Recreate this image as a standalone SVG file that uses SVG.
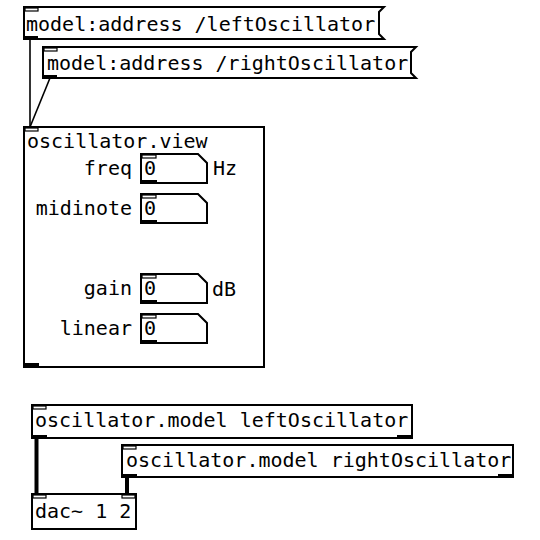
<svg xmlns="http://www.w3.org/2000/svg" width="540" height="540" viewBox="0 0 540 540">
<style>
.box{fill:#fff;stroke:#000;stroke-width:2}
.in{fill:#fff;stroke:#000;stroke-width:1.2}
.out{fill:#000}
.t{font-family:"DejaVu Sans Mono","Liberation Mono",monospace;font-size:20px;fill:#000}
.ctl{stroke:#000;stroke-width:1.6;fill:none}
.sig{stroke:#000;stroke-width:4;fill:none}
</style>
<rect width="540" height="540" fill="#fff"/>
<g id="connectors">
<line class="ctl" x1="30" y1="39" x2="30" y2="127"/>
<line class="ctl" x1="50" y1="78" x2="30" y2="127"/>
<line class="sig" x1="36.5" y1="438" x2="36.5" y2="494"/>
<line class="sig" x1="127" y1="477" x2="127" y2="494"/>
</g>
<g id="msgLeft">
<polygon class="box" points="24,7 384,7 379,12 379,34 384,39 24,39"/>
<rect class="in" x="25" y="8" width="13" height="3"/>
<rect class="out" x="24" y="36" width="14" height="3"/>
<text class="t" x="26" y="31">model:address /leftOscillator</text>
</g>
<g id="msgRight">
<polygon class="box" points="43,47 416,47 411,52 411,73 416,78 43,78"/>
<rect class="in" x="44" y="48" width="13" height="3"/>
<rect class="out" x="43" y="75" width="14" height="3"/>
<text class="t" x="47" y="70">model:address /rightOscillator</text>
</g>
<g id="oscView">
<rect class="box" x="24" y="127" width="240" height="240"/>
<rect class="in" x="25" y="128" width="13" height="3"/>
<rect class="out" x="24" y="363" width="15" height="4"/>
<text class="t" x="27" y="148">oscillator.view</text>
<g id="freq">
<text class="t" x="132" y="175" text-anchor="end">freq</text>
<polygon class="box" points="141,154 198,154 207,163 207,183 141,183"/>
<rect class="in" x="142" y="155" width="14" height="3"/>
<rect class="out" x="141" y="180" width="16" height="3"/>
<text class="t" x="144" y="175">0</text>
<text class="t" x="213" y="175">Hz</text>
</g>
<g id="midinote">
<text class="t" x="132" y="215" text-anchor="end">midinote</text>
<polygon class="box" points="141,194 198,194 207,203 207,223 141,223"/>
<rect class="in" x="142" y="195" width="14" height="3"/>
<rect class="out" x="141" y="220" width="16" height="3"/>
<text class="t" x="144" y="215">0</text>
</g>
<g id="gain">
<text class="t" x="132" y="295" text-anchor="end">gain</text>
<polygon class="box" points="141,274 198,274 207,283 207,303 141,303"/>
<rect class="in" x="142" y="275" width="14" height="3"/>
<rect class="out" x="141" y="300" width="16" height="3"/>
<text class="t" x="144" y="295">0</text>
<text class="t" x="212" y="296">dB</text>
</g>
<g id="linear">
<text class="t" x="132" y="335" text-anchor="end">linear</text>
<polygon class="box" points="141,314 198,314 207,323 207,343 141,343"/>
<rect class="in" x="142" y="315" width="14" height="3"/>
<rect class="out" x="141" y="340" width="16" height="3"/>
<text class="t" x="144" y="335">0</text>
</g>
</g>
<g id="modelLeft">
<rect class="box" x="32" y="405" width="380" height="33"/>
<rect class="in" x="33" y="406" width="13" height="3"/>
<rect class="out" x="32" y="435" width="15" height="3"/>
<rect class="out" x="397" y="435" width="15" height="3"/>
<text class="t" x="35" y="427">oscillator.model leftOscillator</text>
</g>
<g id="modelRight">
<rect class="box" x="122" y="445" width="391" height="32"/>
<rect class="in" x="123" y="446" width="13" height="3"/>
<rect class="out" x="122" y="474" width="15" height="3"/>
<rect class="out" x="498" y="474" width="15" height="3"/>
<text class="t" x="126" y="467">oscillator.model rightOscillator</text>
</g>
<g id="dac">
<rect class="box" x="32" y="494" width="104" height="35"/>
<rect class="in" x="33" y="495" width="13" height="3"/>
<rect class="in" x="122" y="495" width="13" height="3"/>
<text class="t" x="35" y="518">dac~ 1 2</text>
</g>
</svg>
